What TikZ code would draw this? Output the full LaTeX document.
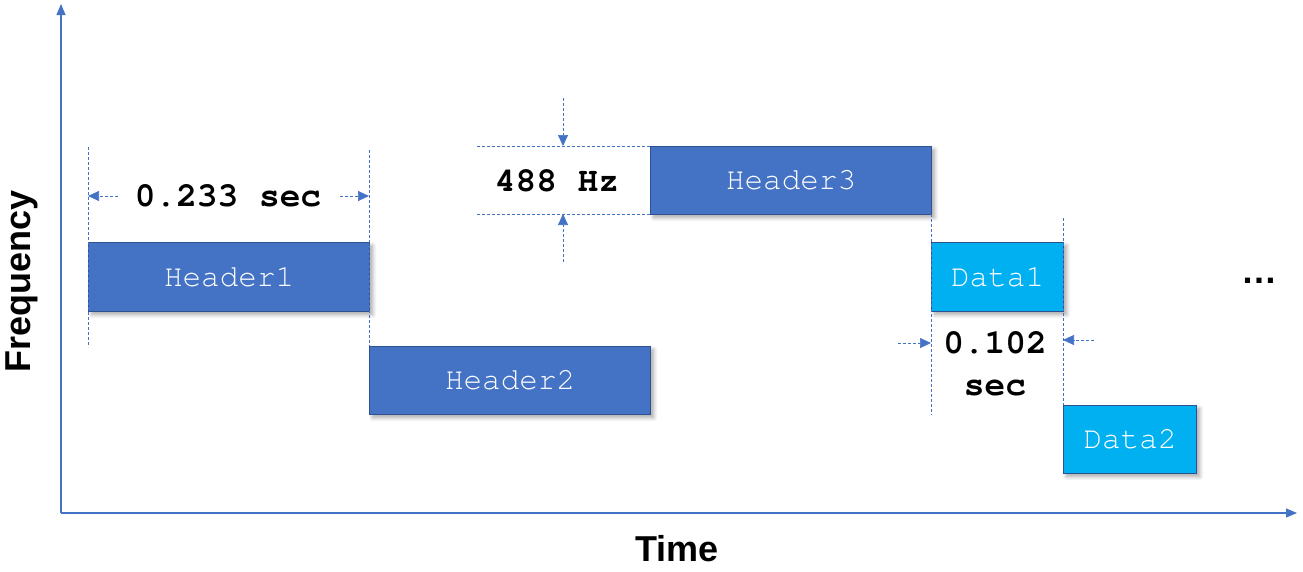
\documentclass[tikz,border=0pt]{standalone}
\usepackage{fontspec}
\setmainfont{Liberation Sans}
\newfontfamily\monofont{TeX Gyre Cursor}
\usetikzlibrary{arrows.meta,shadows,shadows.blur,calc}
\definecolor{hblue}{HTML}{4472C4}
\definecolor{hborder}{HTML}{2F528F}
\definecolor{dcyan}{HTML}{00B0F0}
\begin{document}
\begin{tikzpicture}[x=1pt,y=-1pt,
  box/.style={draw=hborder, line width=1.2pt, fill=hblue, text=white,
    font=\monofont\fontsize{31}{36}\selectfont, inner sep=0pt, anchor=north west,
    blur shadow={shadow xshift=3pt,shadow yshift=-3pt,shadow blur radius=4pt,shadow blur steps=8,shadow opacity=35}},
  databox/.style={box, fill=dcyan},
  axis/.style={draw=hblue, line width=1.1pt, -{Triangle[length=11pt,width=9pt]}},
  guide/.style={draw=hblue, line width=0.7pt, dash pattern=on 3pt off 2pt},
  dimarrow/.style={guide, -{Triangle[length=11pt,width=10pt]}},
  dimlabel/.style={font=\monofont\bfseries\fontsize{34.5}{42}\selectfont, text=black, inner sep=0pt},
  axlabel/.style={font=\bfseries\fontsize{36}{40}\selectfont, text=black, inner sep=0pt}]
\useasboundingbox (0,0) rectangle (1303,571);
% axes
\coordinate (o) at (61,513);
\coordinate (ytop) at (61,4);
\coordinate (xend) at (1297,513);
\draw[axis] (o) -- (ytop);
\draw[axis] (o) -- (xend);
\node[axlabel, rotate=90] (freq) at (22,281) {Frequency};
\node[axlabel] (time) at (677,549) {Time};
% boxes
\node[box, minimum width=281pt, minimum height=69pt] (h1) at (88,242) {Header1};
\node[box, minimum width=281pt, minimum height=68pt] (h2) at (369,346) {Header2};
\node[box, minimum width=281pt, minimum height=68pt] (h3) at (650,146) {Header3};
\node[databox, minimum width=132pt, minimum height=69pt] (d1) at (931,242) {Data1};
\node[databox, minimum width=133pt, minimum height=68pt] (d2) at (1063,405) {Data2};
% 0.233 sec dimension
\coordinate (g1t) at (88,147);
\coordinate (g1b) at (88,347);
\coordinate (g2t) at (369,150);
\draw[guide] (g1t) -- (g1b);
\draw[guide] (g2t) -- (h2.north west);
\node[dimlabel] (t233) at (228,196) {0.233 sec};
\coordinate (a1s) at (118,196);
\coordinate (a1e) at (88,196);
\coordinate (a2s) at (340,196);
\coordinate (a2e) at (369,196);
\draw[dimarrow] (a1s) -- (a1e);
\draw[dimarrow] (a2s) -- (a2e);
% 488 Hz dimension
\coordinate (f1) at (477,146);
\coordinate (f2) at (477,214);
\coordinate (f1e) at (650,146);
\coordinate (f2e) at (650,214);
\draw[guide] (f1) -- (f1e);
\draw[guide] (f2) -- (f2e);
\node[dimlabel] (t488) at (557,181) {488 Hz};
\coordinate (v1s) at (563,98);
\coordinate (v1e) at (563,146);
\coordinate (v2s) at (563,262);
\coordinate (v2e) at (563,214);
\draw[dimarrow] (v1s) -- (v1e);
\draw[dimarrow] (v2s) -- (v2e);
% 0.102 sec dimension
\coordinate (g3t) at (931,214);
\coordinate (g3b) at (931,415);
\coordinate (g4t) at (1063,218);
\draw[guide] (g3t) -- (g3b);
\draw[guide] (g4t) -- (d2.north west);
\node[dimlabel, align=center] (t102) at (995,364) {0.102\\sec};
\coordinate (b1s) at (898,343);
\coordinate (b1e) at (931,343);
\coordinate (b2s) at (1094,340);
\coordinate (b2e) at (1063,340);
\draw[dimarrow] (b1s) -- (b1e);
\draw[dimarrow] (b2s) -- (b2e);
% ellipsis
\node[axlabel, anchor=base] (dots) at (1259,283) {\char"2026};
\end{tikzpicture}
\end{document}
